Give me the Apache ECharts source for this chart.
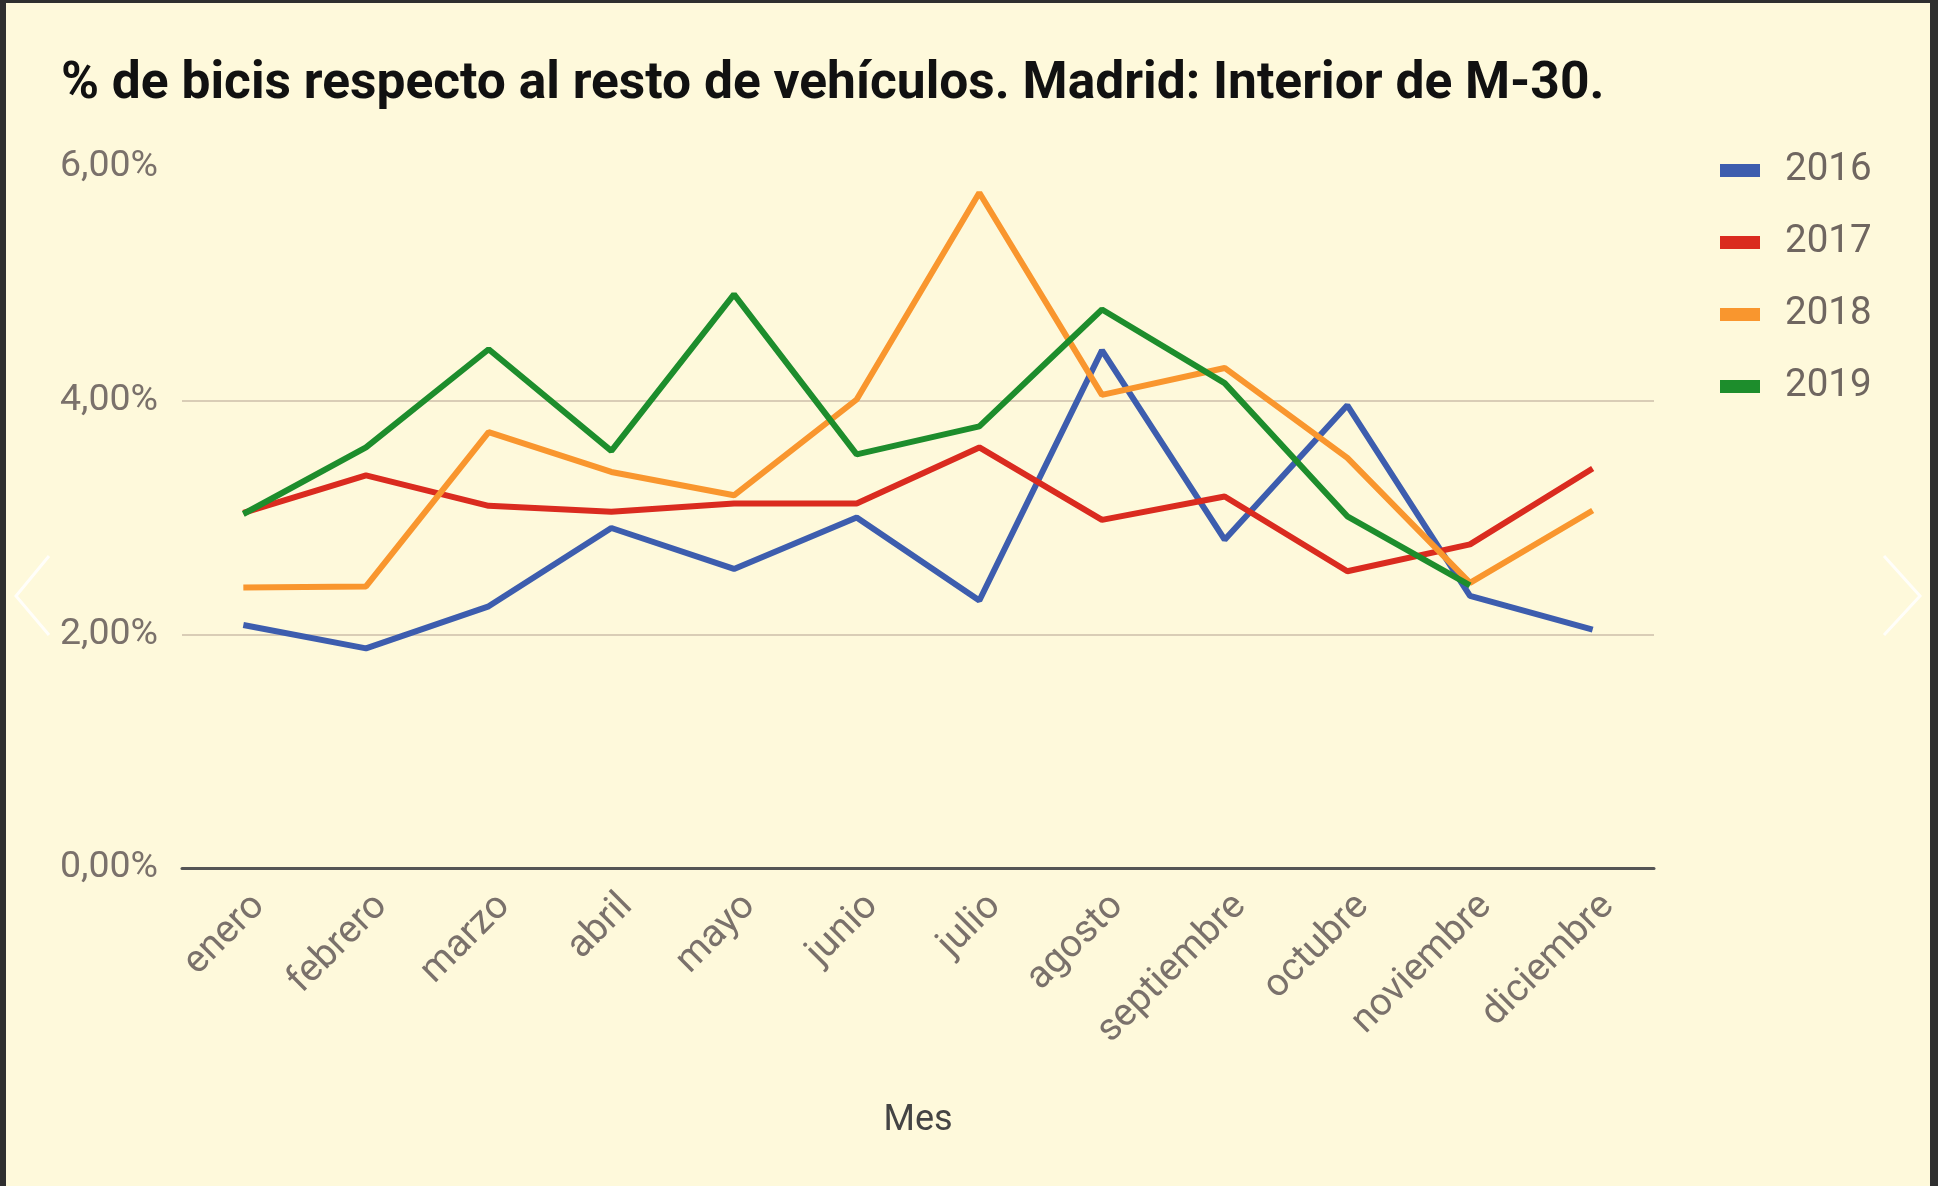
<!DOCTYPE html>
<html><head><meta charset="utf-8">
<script src="https://cdn.jsdelivr.net/npm/echarts@6/dist/echarts.min.js"></script>
<style>
html,body{margin:0;padding:0;background:#2f2f2f;width:1938px;height:1186px;overflow:hidden;}
#c{position:absolute;left:6px;top:3px;width:1924px;height:1183px;background:#FEF9DB;}
</style></head>
<body><div id="c"></div>
<script>
const meses = ['enero','febrero','marzo','abril','mayo','junio','julio','agosto','septiembre','octubre','noviembre','diciembre'];
const y2016 = [2.08, 1.88, 2.24, 2.91, 2.56, 3.00, 2.29, 4.43, 2.81, 3.96, 2.33, 2.04];
const y2017 = [3.04, 3.36, 3.10, 3.05, 3.12, 3.12, 3.60, 2.98, 3.18, 2.54, 2.77, 3.42];
const y2018 = [2.40, 2.41, 3.73, 3.39, 3.19, 4.01, 5.78, 4.05, 4.28, 3.51, 2.44, 3.06];
const y2019 = [3.03, 3.60, 4.44, 3.57, 4.91, 3.54, 3.78, 4.78, 4.15, 3.01, 2.42, null];
const yTicks = [0, 2, 4, 6];
const colors = ['#3D5DAE', '#DA2B1F', '#F9962E', '#1D8D2C'];
const names = ['2016','2017','2018','2019'];
const data = [y2016, y2017, y2018, y2019];

const chart = echarts.init(document.getElementById('c'));
chart.setOption({
  backgroundColor: 'transparent',
  title: {
    text: '% de bicis respecto al resto de vehículos. Madrid: Interior de M-30.',
    left: 50, top: 51,
    textStyle: {fontFamily: 'Roboto', fontWeight: 'bold', fontSize: 51.5, color: '#111'}
  },
  legend: {
    orient: 'vertical', left: 1709, top: 143,
    icon: 'rect', itemWidth: 40, itemHeight: 13, itemGap: 33,
    textStyle: {fontFamily: 'Roboto', fontSize: 38.5, color: '#6f6660', padding: [0,0,0,20]},
    data: names
  },
  grid: {left: 176, right: 276, top: 164, bottom: 318},
  xAxis: {
    type: 'category', data: meses, boundaryGap: true,
    name: 'Mes', nameLocation: 'middle', nameGap: 235,
    nameTextStyle: {fontFamily: 'Roboto', fontSize: 36, color: '#444'},
    axisLine: {lineStyle: {color: '#555', width: 3}},
    axisTick: {show: false},
    axisLabel: {rotate: 45, fontFamily: 'Roboto', fontSize: 38.5, color: '#7a716b', margin: 48, interval: 0,
      padding: [0, -22, 0, 0]}
  },
  yAxis: {
    type: 'value', min: yTicks[0], max: yTicks[yTicks.length-1], interval: 2,
    axisLine: {show: false}, axisTick: {show: false},
    splitLine: {lineStyle: {color: ['#D9CDB6','#D9CDB6','#D9CDB6','rgba(0,0,0,0)'], width: 2}},
    axisLabel: {fontFamily: 'Roboto', fontSize: 37.5, color: '#7a716b', margin: 24,
      formatter: v => v.toFixed(2).replace('.', ',') + '%'}
  },
  series: names.map((n, i) => ({
    name: n, type: 'line', data: data[i], symbol: 'none',
    lineStyle: {color: colors[i], width: 6}, itemStyle: {color: colors[i]},
    connectNulls: false, z: 2 + i
  })),
  graphic: [
    {type: 'polyline', shape: {points: [[43,553],[10,593],[43,632]]}, style: {stroke: '#ffffff', lineWidth: 3, fill: null, opacity: 0.85}},
    {type: 'polyline', shape: {points: [[1878,553],[1914,593],[1878,632]]}, style: {stroke: '#ffffff', lineWidth: 3, fill: null, opacity: 0.85}}
  ]
});
</script></body></html>
